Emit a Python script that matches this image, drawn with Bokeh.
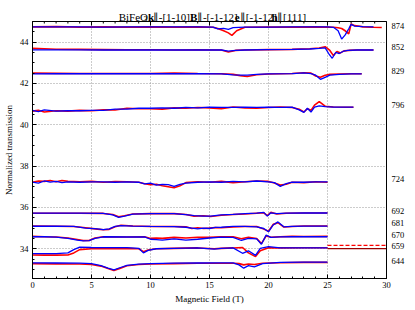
from bokeh.plotting import figure
from bokeh.layouts import column
from bokeh.models import (Range1d, LinearAxis, FixedTicker, SingleIntervalTicker)
from bokeh.core.properties import value
from bokeh.embed import file_html
from bokeh.resources import INLINE

# ---------------- data ----------------
freqs = ["874", "852", "829", "796", "724", "692", "681", "670", "659", "644"]
label_pos = [44.80, 43.76, 42.58, 40.97, 37.36, 35.81, 35.24, 34.68, 34.12, 33.39]

x_874r = [0, 2, 4, 6, 8, 10, 12, 14, 15.3, 15.7, 16.2, 16.6, 16.9, 17.3, 18, 20, 22, 24, 25.0, 25.5, 25.9, 26.2, 26.5, 26.8, 27.0, 27.3, 27.6, 28.0, 28.9, 29.6]
r_874 = [44.74, 44.75, 44.73, 44.74, 44.73, 44.74, 44.73, 44.74, 44.72, 44.66, 44.55, 44.45, 44.33, 44.55, 44.72, 44.73, 44.73, 44.74, 44.73, 44.72, 44.70, 44.66, 44.55, 44.40, 44.88, 44.80, 44.78, 44.74, 44.72, 44.71]
x_874b = [0, 2, 4, 6, 8, 10, 12, 14, 15.3, 15.7, 16.2, 16.6, 17.0, 18, 20, 22, 24, 25.0, 25.5, 25.9, 26.2, 26.5, 26.8, 27.0, 27.3, 28.0, 28.9]
b_874 = [44.74, 44.74, 44.74, 44.73, 44.74, 44.74, 44.74, 44.74, 44.73, 44.64, 44.67, 44.62, 44.70, 44.73, 44.73, 44.74, 44.74, 44.74, 44.72, 44.55, 44.15, 44.35, 44.65, 44.86, 44.78, 44.75, 44.74]

x_852r = [0, 1, 2, 4, 6, 8, 10, 12, 14, 16, 16.6, 17.2, 18, 20, 22, 23.5, 24.3, 24.8, 25.2, 25.5, 25.8, 26.1, 26.4, 26.8, 27.5, 28.9]
r_852 = [43.70, 43.68, 43.66, 43.65, 43.64, 43.63, 43.63, 43.62, 43.63, 43.62, 43.52, 43.60, 43.62, 43.64, 43.65, 43.68, 43.72, 43.78, 43.60, 43.35, 43.55, 43.48, 43.58, 43.60, 43.62, 43.62]
x_852b = [0, 2, 4, 6, 8, 10, 12, 14, 16, 16.6, 17.2, 18, 20, 22, 23.5, 24.3, 24.8, 25.1, 25.4, 25.7, 26.0, 26.3, 26.7, 27.5, 28.9]
b_852 = [43.63, 43.63, 43.63, 43.62, 43.62, 43.62, 43.62, 43.62, 43.62, 43.57, 43.60, 43.62, 43.64, 43.65, 43.67, 43.70, 43.72, 43.45, 43.22, 43.50, 43.45, 43.55, 43.60, 43.62, 43.62]

x_829 = [0, 2, 4, 6, 8, 10, 12, 14, 16, 17, 17.6, 18.2, 19, 20, 22, 23, 23.6, 24.0, 24.4, 24.8, 25.2, 26, 27, 27.9]
r_829 = [42.50, 42.49, 42.48, 42.48, 42.48, 42.48, 42.50, 42.48, 42.47, 42.44, 42.38, 42.34, 42.42, 42.46, 42.48, 42.52, 42.50, 42.36, 42.30, 42.40, 42.44, 42.46, 42.47, 42.47]
b_829 = [42.46, 42.47, 42.47, 42.47, 42.47, 42.47, 42.48, 42.47, 42.46, 42.42, 42.40, 42.40, 42.44, 42.46, 42.48, 42.51, 42.48, 42.40, 42.20, 42.30, 42.40, 42.44, 42.46, 42.46]

x_796 = [0, 0.5, 1, 2, 3, 4, 5, 6, 7, 8, 9, 10, 11, 12, 13, 14, 15, 16, 17, 18, 19, 20, 21, 22, 22.6, 23.0, 23.3, 23.6, 23.9, 24.3, 24.8, 25.5, 26.5, 27.2]
r_796 = [40.66, 40.70, 40.62, 40.68, 40.66, 40.70, 40.68, 40.72, 40.72, 40.80, 40.78, 40.78, 40.76, 40.82, 40.80, 40.84, 40.82, 40.78, 40.86, 40.82, 40.80, 40.84, 40.86, 40.84, 40.75, 40.62, 40.78, 40.70, 40.95, 41.12, 40.90, 40.86, 40.85, 40.85]
b_796 = [40.70, 40.64, 40.72, 40.66, 40.68, 40.68, 40.70, 40.70, 40.76, 40.76, 40.80, 40.80, 40.82, 40.80, 40.84, 40.82, 40.86, 40.84, 40.84, 40.86, 40.84, 40.86, 40.84, 40.86, 40.72, 40.60, 40.80, 40.62, 40.85, 40.92, 40.88, 40.86, 40.86, 40.86]

x_724 = [0, 0.5, 1, 1.5, 2, 2.5, 3, 4, 5, 6, 7, 8, 9, 9.5, 10, 10.5, 11, 11.5, 12, 12.5, 13, 14, 15, 16, 17, 18, 19, 20, 20.5, 21, 21.5, 22, 23, 24, 25]
r_724 = [37.22, 37.28, 37.26, 37.30, 37.24, 37.30, 37.26, 37.24, 37.26, 37.22, 37.25, 37.24, 37.22, 37.15, 37.10, 37.12, 37.05, 37.00, 36.95, 37.05, 37.20, 37.24, 37.22, 37.26, 37.20, 37.24, 37.28, 37.26, 37.18, 37.08, 37.12, 37.22, 37.20, 37.24, 37.22]
b_724 = [37.22, 37.18, 37.28, 37.22, 37.26, 37.20, 37.24, 37.22, 37.24, 37.24, 37.22, 37.24, 37.22, 37.14, 37.18, 37.08, 37.12, 37.10, 37.02, 37.12, 37.18, 37.22, 37.24, 37.22, 37.26, 37.24, 37.28, 37.24, 37.20, 37.02, 37.15, 37.22, 37.22, 37.24, 37.24]

x_692 = [0, 2, 4, 6, 6.8, 7.3, 7.8, 8.5, 10, 12, 13, 13.7, 14.5, 15.1, 16, 17, 18, 19, 19.6, 19.9, 20.2, 20.7, 21.5, 23, 25]
r_692 = [35.72, 35.72, 35.72, 35.71, 35.66, 35.55, 35.60, 35.68, 35.70, 35.70, 35.66, 35.58, 35.60, 35.56, 35.62, 35.66, 35.68, 35.72, 35.74, 35.60, 35.76, 35.68, 35.72, 35.73, 35.73]
b_692 = [35.72, 35.72, 35.72, 35.71, 35.64, 35.52, 35.58, 35.68, 35.70, 35.70, 35.65, 35.60, 35.58, 35.58, 35.64, 35.66, 35.70, 35.72, 35.76, 35.58, 35.74, 35.70, 35.72, 35.73, 35.73]

x_681 = [0, 2, 3.5, 4.5, 5.5, 6.0, 6.5, 7.0, 7.5, 8.5, 10, 12, 13, 13.5, 14, 14.5, 15, 15.5, 16, 17, 18, 19, 19.6, 20.0, 20.4, 20.8, 21.3, 22, 23, 25]
r_681 = [35.10, 35.09, 35.08, 35.02, 34.95, 34.92, 34.94, 35.06, 35.14, 35.10, 35.08, 35.08, 35.06, 34.98, 35.02, 34.98, 35.00, 35.03, 35.02, 35.06, 35.08, 35.08, 34.95, 34.85, 35.18, 35.26, 35.05, 35.08, 35.10, 35.10]
b_681 = [35.09, 35.09, 35.08, 35.00, 34.96, 34.93, 34.96, 35.08, 35.12, 35.10, 35.08, 35.07, 35.04, 35.00, 34.96, 35.00, 34.98, 35.03, 35.04, 35.08, 35.08, 35.06, 34.98, 34.82, 35.15, 35.30, 35.06, 35.08, 35.10, 35.10]

x_670 = [0, 1, 2, 3, 3.8, 4.3, 4.8, 5.3, 6, 8, 9.5, 10, 10.5, 11, 12, 13, 14, 15, 16, 17, 17.7, 18.3, 19, 19.4, 19.8, 20.2, 21, 22, 23, 25]
r_670 = [34.60, 34.58, 34.57, 34.52, 34.45, 34.40, 34.40, 34.52, 34.58, 34.57, 34.58, 34.50, 34.52, 34.50, 34.55, 34.52, 34.56, 34.55, 34.58, 34.58, 34.48, 34.56, 34.50, 34.25, 34.62, 34.56, 34.58, 34.60, 34.59, 34.60]
b_670 = [34.58, 34.58, 34.56, 34.50, 34.42, 34.38, 34.39, 34.50, 34.58, 34.57, 34.57, 34.46, 34.44, 34.42, 34.48, 34.42, 34.46, 34.52, 34.56, 34.55, 34.40, 34.50, 34.48, 34.22, 34.66, 34.55, 34.57, 34.58, 34.58, 34.58]

x_659 = [0, 1, 2, 3, 3.5, 4, 5, 6, 8, 9, 9.4, 9.8, 10.5, 12, 14, 15.4, 16, 17, 17.8, 18.3, 18.9, 19.3, 20.0, 21, 23, 25]
r_659 = [33.70, 33.69, 33.69, 33.70, 33.80, 33.96, 34.00, 34.00, 34.02, 34.00, 33.86, 33.94, 34.00, 34.02, 34.04, 34.00, 34.02, 34.04, 34.06, 33.80, 33.62, 33.90, 34.05, 34.04, 34.05, 34.05]
b_659 = [33.76, 33.76, 33.76, 33.80, 33.96, 34.08, 34.06, 34.05, 34.05, 34.02, 33.80, 33.92, 34.00, 34.02, 34.04, 33.98, 34.02, 34.04, 33.78, 33.90, 33.68, 34.02, 34.10, 34.04, 34.04, 34.04]
x_659ext = [25, 30]
dash_659ext = [34.16, 34.16]
solid_659ext = [34.01, 34.01]

x_644 = [0, 2, 4, 5, 5.8, 6.4, 6.9, 7.4, 8, 9, 10, 12, 14, 16, 17, 17.5, 17.9, 18.3, 18.8, 19.5, 21, 23, 25]
r_644 = [33.28, 33.27, 33.26, 33.24, 33.16, 33.04, 32.95, 33.05, 33.18, 33.24, 33.26, 33.28, 33.30, 33.30, 33.30, 33.28, 33.22, 33.26, 33.24, 33.30, 33.32, 33.34, 33.34]
b_644 = [33.32, 33.31, 33.30, 33.28, 33.18, 33.06, 32.98, 33.08, 33.20, 33.26, 33.28, 33.30, 33.31, 33.32, 33.32, 33.22, 33.06, 33.18, 33.12, 33.28, 33.34, 33.35, 33.35]

red_series = [(x_874r, r_874), (x_852r, r_852), (x_829, r_829), (x_796, r_796), (x_724, r_724),
              (x_692, r_692), (x_681, r_681), (x_670, r_670), (x_659, r_659), (x_644, r_644)]
blue_series = [(x_874b, b_874), (x_852b, b_852), (x_829, b_829), (x_796, b_796), (x_724, b_724),
               (x_692, b_692), (x_681, b_681), (x_670, b_670), (x_659, b_659), (x_644, b_644)]

x_ticks = [0, 5, 10, 15, 20, 25, 30]
x_minor = list(range(0, 31))
y_ticks = [34, 36, 38, 40, 42, 44]

# title split into styled pieces: (text, style)
title_pieces = [("BiFeO", "normal"), ("3", "sub"), ("k", "bold"), ("\u2225-[1-10]", "normal"),
                ("B", "bold"), ("\u2225-[-1-12]", "normal"), ("e", "bold"), ("\u2225[-1-12]", "normal"),
                ("h", "bold"), ("\u2225[111]", "normal")]
# left edge of each piece, page pixels (layout only)
title_left = [101, 130, 135.5, 141, 184.5, 192.7, 237.2, 243, 280.2, 286.7]

FONT = "Liberation Serif"
RED = "#ff0000"
BLUE = "#0000ff"

W = 415
FL, FW, FH = 32, 354, 257
TH = 21  # height of the title strip (= top of the frame)
Y0, Y1 = 32.56, 45.0

# ---- title strip (pixel coordinates, y downwards) ----
pt = figure(width=W, height=TH, title=None, output_backend="svg", toolbar_location=None,
            x_range=Range1d(0, W), y_range=Range1d(TH, 0),
            x_axis_location=None, y_axis_location=None,
            min_border_left=0, min_border_right=0, min_border_top=0, min_border_bottom=0)
pt.outline_line_color = None
pt.grid.visible = False
pt.background_fill_color = "white"
pt.border_fill_color = "white"
for (txt, st), lx in zip(title_pieces, title_left):
    if st == "sub":
        pt.text(x=[lx], y=[18.4], text=[txt], text_font=value(FONT), text_font_size="7.5px",
                text_color="black", text_baseline="alphabetic", text_align="left")
    else:
        pt.text(x=[lx], y=[16.5], text=[txt], text_font=value(FONT), text_font_size="11px",
                text_font_style=st, text_color="black", text_baseline="alphabetic", text_align="left")

# ---- main plot ----
p = figure(width=W, output_backend="svg", toolbar_location=None,
           x_range=Range1d(0, 30), y_range=Range1d(Y0, Y1),
           frame_width=FW, frame_height=FH,
           min_border_left=FL, min_border_right=W - FL - FW,
           min_border_top=0, min_border_bottom=32)
p.background_fill_color = "white"
p.border_fill_color = "white"
p.outline_line_color = "black"
p.outline_line_width = 1

p.xgrid.ticker = FixedTicker(ticks=x_ticks)
p.ygrid.ticker = FixedTicker(ticks=y_ticks)
for g in (p.xgrid[0], p.ygrid[0]):
    g.grid_line_color = "#999999"
    g.grid_line_dash = "1 2"
    g.grid_line_width = 1

def style_axis(ax):
    ax.axis_line_color = "black"
    ax.major_tick_in = 4
    ax.major_tick_out = 0
    ax.minor_tick_in = 2
    ax.minor_tick_out = 0
    ax.major_tick_line_color = "black"
    ax.minor_tick_line_color = "black"
    ax.major_label_text_font = FONT
    ax.major_label_text_font_size = "8.5px"
    ax.major_label_text_color = "black"
    ax.axis_label_text_font = FONT
    ax.axis_label_text_font_size = "9px"
    ax.axis_label_text_font_style = "normal"
    ax.axis_label_text_color = "black"

xa = p.xaxis[0]
xa.ticker = SingleIntervalTicker(interval=5, num_minor_ticks=5)
style_axis(xa)
xa.major_label_standoff = 3
xa.axis_label = "Magnetic Field (T)"
xa.axis_label_standoff = 3

ya = p.yaxis[0]
ya.ticker = SingleIntervalTicker(interval=2, num_minor_ticks=4)
style_axis(ya)
ya.major_label_standoff = 4
ya.axis_label = "Normalized transmission"
ya.axis_label_standoff = 3

right = LinearAxis(ticker=FixedTicker(ticks=label_pos))
style_axis(right)
right.major_tick_in = 0
right.minor_tick_in = 0
right.major_label_standoff = 5
right.axis_label_standoff = 0
right.major_label_overrides = {v: t for v, t in zip(label_pos, freqs)}
p.add_layout(right, "right")

# inward ticks on the top spine (from the tick lists; length 4px / 2px)
px_per_unit = FH / (Y1 - Y0)
p.segment(x0=x_ticks, y0=[Y1] * len(x_ticks), x1=x_ticks, y1=[Y1 - 4 / px_per_unit] * len(x_ticks),
          line_color="black", line_width=1)
p.segment(x0=x_minor, y0=[Y1] * len(x_minor), x1=x_minor, y1=[Y1 - 2 / px_per_unit] * len(x_minor),
          line_color="black", line_width=1)

for xs, ys in red_series:
    p.line(xs, ys, line_color=RED, line_width=1.6)
for xs, ys in blue_series:
    p.line(xs, ys, line_color=BLUE, line_width=1.3)
p.line(x_659ext, dash_659ext, line_color=RED, line_width=1.2, line_dash="4 2")
p.line(x_659ext, solid_659ext, line_color="#990000", line_width=1.2)

layout = column(pt, p, spacing=0)
open("out.html", "w").write(file_html(layout, INLINE))
